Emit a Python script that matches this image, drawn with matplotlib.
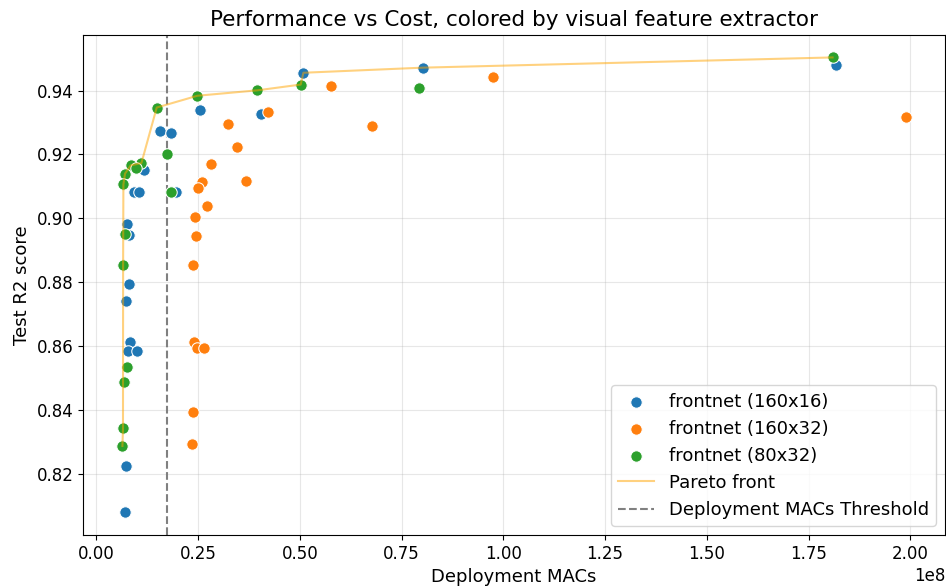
import numpy as np
import matplotlib
matplotlib.use("Agg")
import matplotlib.pyplot as plt

# Deployment MACs (in units of 1e8) and test R2 score per model, grouped by extractor
macs_160x16 = [0.2546, 0.1555, 0.1826, 0.1170, 0.0924, 0.1047, 0.1948, 0.0762, 0.0801, 0.0801,
               0.0720, 0.0826, 0.0776, 0.1007, 0.0727, 0.0713, 0.4037, 0.5086, 0.8025, 1.8182]
r2_160x16 = [0.9340, 0.9272, 0.9268, 0.9152, 0.9084, 0.9084, 0.9082, 0.8981, 0.8949, 0.8793,
             0.8740, 0.8612, 0.8584, 0.8584, 0.8223, 0.8079, 0.9328, 0.9456, 0.9472, 0.9481]

macs_160x32 = [0.2826, 0.2587, 0.2506, 0.2710, 0.2423, 0.2447, 0.2378, 0.2410, 0.2472, 0.2636,
               0.2378, 0.2359, 0.4226, 0.3233, 0.3464, 0.3668, 0.5757, 0.6771, 0.9737, 1.9892]
r2_160x32 = [0.9171, 0.9113, 0.9096, 0.9040, 0.9004, 0.8944, 0.8853, 0.8613, 0.8595, 0.8595,
             0.8392, 0.8293, 0.9332, 0.9295, 0.9223, 0.9116, 0.9414, 0.9290, 0.9444, 0.9316]

macs_80x32 = [0.2482, 0.1482, 0.1744, 0.1106, 0.0843, 0.0966, 0.0703, 0.0663, 0.1826, 0.0705,
              0.0656, 0.0762, 0.0688, 0.0653, 0.0639, 0.3956, 0.5020, 0.7936, 1.8091]
r2_80x32 = [0.9384, 0.9347, 0.9203, 0.9173, 0.9166, 0.9157, 0.9140, 0.9106, 0.9084, 0.8950,
            0.8855, 0.8534, 0.8487, 0.8342, 0.8287, 0.9401, 0.9419, 0.9409, 0.9504]

series_labels = ["frontnet (160x16)", "frontnet (160x32)", "frontnet (80x32)"]
series_colors = ["#1f77b4", "#ff7f0e", "#2ca02c"]
mac_threshold = 0.1727e8

series = [(np.array(macs_160x16) * 1e8, np.array(r2_160x16)),
          (np.array(macs_160x32) * 1e8, np.array(r2_160x32)),
          (np.array(macs_80x32) * 1e8, np.array(r2_80x32))]

# Pareto front: lower MACs and higher R2 are better
all_x = np.concatenate([s[0] for s in series])
all_y = np.concatenate([s[1] for s in series])
order = np.lexsort((all_y, all_x))
px, py = [], []
best = -np.inf
for i in order:
    if all_y[i] > best:
        best = all_y[i]
        px.append(all_x[i])
        py.append(all_y[i])

plt.rcParams["font.family"] = "DejaVu Sans"
fig, ax = plt.subplots(figsize=(9.46, 5.88), dpi=100)
fig.subplots_adjust(left=0.088, right=0.999, top=0.941, bottom=0.09)

for (x, y), lab, col in zip(series, series_labels, series_colors):
    ax.scatter(x, y, s=68, color=col, edgecolor="white", linewidth=0.75, label=lab, zorder=2)

ax.plot(px, py, color="orange", alpha=0.5, linewidth=1.5, label="Pareto front", zorder=3)
ax.axvline(mac_threshold, color="gray", linestyle="--", linewidth=1.5,
           label="Deployment MACs Threshold", zorder=1)

ax.grid(True, alpha=0.3)
ax.set_axisbelow(True)
ax.set_title("Performance vs Cost, colored by visual feature extractor", fontsize=15.5)
ax.set_xlabel("Deployment MACs", fontsize=13)
ax.set_ylabel("Test R2 score", fontsize=13)
ax.tick_params(labelsize=12)
ax.xaxis.get_offset_text().set_fontsize(12)
ax.legend(loc="lower right", fontsize=13)

fig.savefig("out.png", dpi=100)
